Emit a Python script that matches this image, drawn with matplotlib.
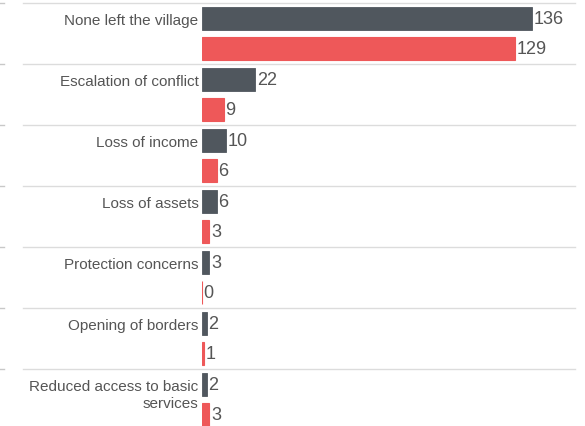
import numpy as np
import matplotlib.pyplot as plt

plt.rcParams['font.family'] = ['Liberation Sans', 'DejaVu Sans']

categories = ['None left the village', 'Escalation of conflict', 'Loss of income',
              'Loss of assets', 'Protection concerns', 'Opening of borders',
              'Reduced access to basic\nservices']
series_a = [136, 22, 10, 6, 3, 2, 2]
series_b = [129, 9, 6, 3, 0, 1, 3]

dark = '#50575e'
red = '#ee5859'

W, H = 585, 427
fig = plt.figure(figsize=(W / 100, H / 100), dpi=100)
ax = fig.add_axes([202 / W, -4 / H, 373 / W, 1.0])

y = np.arange(len(categories))
h = 0.38
ax.barh(y + 0.25, series_a, height=h, color=dark, edgecolor=dark, linewidth=0.6)
ax.barh(y + 0.75, series_b, height=h, color=red, edgecolor=red, linewidth=0.8)

ax.set_xlim(0, 373 / 2.426)
ax.set_ylim(len(categories), 0)
ax.axis('off')

left = -202 / 373
for i in range(len(categories) + 1):
    ax.axhline(i, xmin=-179 / 373, xmax=1, color='#dcdcdc', lw=1, clip_on=False)
    ax.axhline(i, xmin=left, xmax=left + 4 / 373, color='#c8c8c8', lw=1, clip_on=False)

for i, (lab, a, b) in enumerate(zip(categories, series_a, series_b)):
    for k, line in enumerate(lab.split('\n')):
        ax.annotate(line, (0, i + 0.25), xytext=(-2.5, -4.2 - 12 * k),
                    textcoords='offset points', ha='right', va='baseline',
                    fontsize=11, color='#555555')
    ax.annotate(str(a), (a, i + 0.25), xytext=(1.2, 0), textcoords='offset points',
                ha='left', va='center', fontsize=13, color='#555555')
    ax.annotate(str(b), (b, i + 0.75), xytext=(1.2, 0), textcoords='offset points',
                ha='left', va='center', fontsize=13, color='#555555')

fig.savefig('out.png', dpi=100)
